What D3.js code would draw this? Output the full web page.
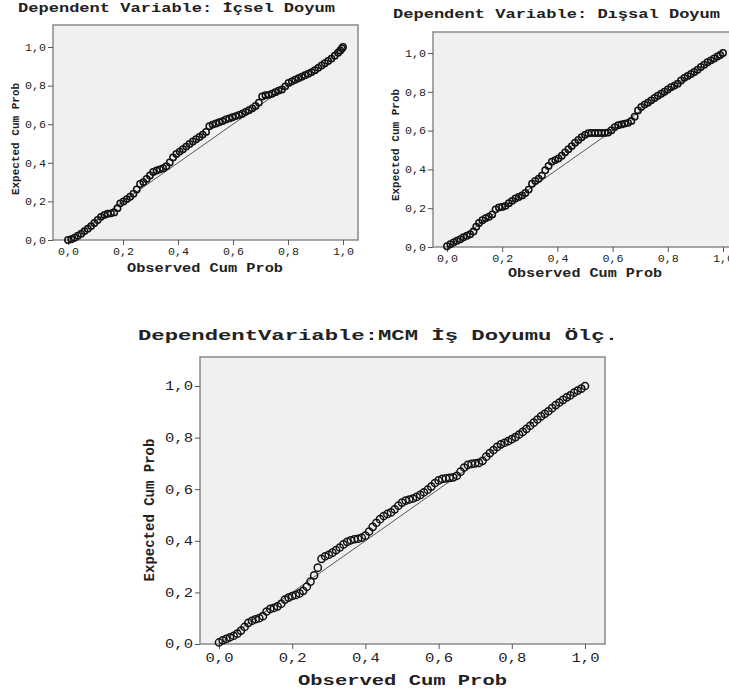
<!DOCTYPE html>
<html>
<head>
<meta charset="utf-8">
<script src="https://cdn.jsdelivr.net/npm/d3@7"></script>
<style>
  body { margin: 0; background: #fff; }
  text { font-family: "Liberation Mono", "DejaVu Sans Mono", monospace; fill: #222; }
</style>
</head>
<body>
<svg id="chart" width="729" height="693"></svg>
<script>
const tickValues = [0, 0.2, 0.4, 0.6, 0.8, 1.0];
const tickLabels = ["0,0", "0,2", "0,4", "0,6", "0,8", "1,0"];
const titles = ["Dependent Variable: İçsel Doyum", "Dependent Variable: Dışsal Doyum", "DependentVariable:MCM İş Doyumu Ölç."];
const xLabel = "Observed Cum Prob";
const yLabel = "Expected Cum Prob";

// observed cum prob, expected cum prob
const icsel = [[0.000,0.000],[0.012,0.004],[0.024,0.012],[0.036,0.022],[0.048,0.033],[0.060,0.046],[0.072,0.058],[0.084,0.072],[0.096,0.088],[0.108,0.104],[0.120,0.120],[0.132,0.130],[0.144,0.136],[0.156,0.138],[0.168,0.143],[0.180,0.165],[0.190,0.190],[0.202,0.200],[0.214,0.212],[0.226,0.224],[0.238,0.240],[0.250,0.262],[0.262,0.290],[0.274,0.300],[0.286,0.316],[0.298,0.334],[0.310,0.352],[0.322,0.360],[0.334,0.366],[0.346,0.372],[0.358,0.382],[0.370,0.402],[0.382,0.428],[0.394,0.446],[0.406,0.458],[0.418,0.470],[0.430,0.484],[0.442,0.498],[0.454,0.510],[0.466,0.522],[0.478,0.534],[0.490,0.546],[0.502,0.560],[0.514,0.590],[0.526,0.598],[0.538,0.604],[0.550,0.610],[0.562,0.616],[0.574,0.624],[0.586,0.630],[0.598,0.636],[0.610,0.642],[0.622,0.648],[0.634,0.654],[0.646,0.664],[0.658,0.672],[0.670,0.682],[0.682,0.694],[0.694,0.712],[0.706,0.744],[0.718,0.750],[0.730,0.752],[0.742,0.758],[0.754,0.766],[0.766,0.774],[0.778,0.780],[0.790,0.796],[0.802,0.814],[0.814,0.822],[0.826,0.830],[0.838,0.838],[0.850,0.846],[0.862,0.854],[0.874,0.862],[0.886,0.870],[0.898,0.880],[0.910,0.892],[0.922,0.904],[0.934,0.916],[0.946,0.928],[0.958,0.940],[0.970,0.955],[0.982,0.970],[0.990,0.982],[0.996,0.992],[1.000,1.000]];

const dissal = [[0.000,0.004],[0.012,0.014],[0.024,0.024],[0.036,0.032],[0.048,0.040],[0.060,0.050],[0.072,0.058],[0.084,0.066],[0.096,0.080],[0.106,0.104],[0.116,0.124],[0.128,0.138],[0.140,0.148],[0.152,0.156],[0.164,0.168],[0.176,0.194],[0.188,0.204],[0.200,0.206],[0.212,0.212],[0.224,0.226],[0.236,0.238],[0.248,0.250],[0.260,0.258],[0.272,0.266],[0.284,0.278],[0.296,0.296],[0.308,0.326],[0.320,0.340],[0.332,0.352],[0.344,0.368],[0.356,0.396],[0.368,0.418],[0.380,0.440],[0.392,0.448],[0.404,0.456],[0.416,0.470],[0.428,0.488],[0.440,0.504],[0.452,0.520],[0.464,0.538],[0.476,0.552],[0.488,0.566],[0.500,0.578],[0.512,0.586],[0.524,0.588],[0.536,0.588],[0.548,0.588],[0.560,0.588],[0.572,0.588],[0.584,0.590],[0.596,0.602],[0.608,0.618],[0.620,0.628],[0.632,0.632],[0.644,0.636],[0.656,0.640],[0.668,0.650],[0.680,0.672],[0.692,0.704],[0.704,0.722],[0.716,0.734],[0.728,0.744],[0.740,0.756],[0.752,0.768],[0.764,0.780],[0.776,0.790],[0.788,0.800],[0.800,0.812],[0.812,0.824],[0.824,0.832],[0.836,0.842],[0.848,0.858],[0.860,0.872],[0.872,0.882],[0.884,0.892],[0.896,0.902],[0.908,0.914],[0.920,0.928],[0.932,0.940],[0.944,0.952],[0.956,0.962],[0.968,0.972],[0.980,0.982],[0.990,0.990],[1.000,1.000]];

const mcm = [[0.000,0.006],[0.010,0.014],[0.020,0.020],[0.030,0.026],[0.040,0.032],[0.050,0.040],[0.060,0.052],[0.070,0.066],[0.080,0.082],[0.090,0.090],[0.100,0.096],[0.110,0.100],[0.120,0.108],[0.130,0.126],[0.140,0.136],[0.150,0.140],[0.160,0.146],[0.170,0.156],[0.180,0.172],[0.190,0.180],[0.200,0.186],[0.210,0.190],[0.220,0.196],[0.230,0.206],[0.240,0.222],[0.250,0.242],[0.260,0.266],[0.270,0.296],[0.280,0.330],[0.290,0.340],[0.300,0.346],[0.310,0.354],[0.320,0.364],[0.330,0.374],[0.340,0.386],[0.350,0.396],[0.360,0.402],[0.370,0.406],[0.380,0.408],[0.390,0.412],[0.400,0.420],[0.410,0.436],[0.420,0.454],[0.430,0.470],[0.440,0.484],[0.450,0.496],[0.460,0.504],[0.470,0.510],[0.480,0.522],[0.490,0.536],[0.500,0.548],[0.510,0.556],[0.520,0.560],[0.530,0.564],[0.540,0.570],[0.550,0.578],[0.560,0.588],[0.570,0.598],[0.580,0.610],[0.590,0.624],[0.600,0.634],[0.610,0.640],[0.620,0.642],[0.630,0.644],[0.640,0.646],[0.650,0.652],[0.660,0.668],[0.670,0.684],[0.680,0.694],[0.690,0.698],[0.700,0.700],[0.710,0.702],[0.720,0.710],[0.730,0.726],[0.740,0.740],[0.750,0.752],[0.760,0.764],[0.770,0.774],[0.780,0.780],[0.790,0.786],[0.800,0.794],[0.810,0.802],[0.820,0.812],[0.830,0.822],[0.840,0.834],[0.850,0.846],[0.860,0.858],[0.870,0.870],[0.880,0.882],[0.890,0.892],[0.900,0.902],[0.910,0.914],[0.920,0.926],[0.930,0.936],[0.940,0.946],[0.950,0.956],[0.960,0.964],[0.970,0.974],[0.980,0.982],[0.990,0.990],[1.000,1.000]];

const svg = d3.select('#chart');

function drawPanel(data, title, o) {
  // o: frame box, pixel position of 0 and 1 on each axis, text placement
  const x = d3.scaleLinear().domain([0, 1]).range([o.x0, o.x1]);
  const y = d3.scaleLinear().domain([0, 1]).range([o.bottom, o.y1]);
  const g = svg.append('g');

  g.append('rect')
    .attr('x', o.left).attr('y', o.top)
    .attr('width', o.right - o.left).attr('height', o.bottom - o.top)
    .attr('fill', '#f0f0f0')
    .attr('stroke', '#8a8a8a')
    .attr('stroke-width', 1.5);

  const xAxis = g.append('g')
    .attr('transform', `translate(0, ${o.bottom})`)
    .call(d3.axisBottom(x).tickValues(tickValues).tickSize(5).tickSizeOuter(0)
      .tickFormat((d, i) => tickLabels[i]));
  xAxis.select('.domain').remove();
  xAxis.selectAll('line').attr('stroke', '#555');
  xAxis.selectAll('text')
    .attr('y', o.tickDy)
    .attr('font-size', o.tickFs)
    .attr('font-family', '"Liberation Mono", monospace')
    .attr('fill', '#333')
    .attr('textLength', o.tickW)
    .attr('lengthAdjust', 'spacingAndGlyphs');

  const yAxis = g.append('g')
    .attr('transform', `translate(${o.left}, 0)`)
    .call(d3.axisLeft(y).tickValues(tickValues).tickSize(5).tickSizeOuter(0)
      .tickFormat((d, i) => tickLabels[i]));
  yAxis.select('.domain').remove();
  yAxis.selectAll('line').attr('stroke', '#555');
  yAxis.selectAll('text')
    .attr('x', -7)
    .attr('font-size', o.tickFs)
    .attr('font-family', '"Liberation Mono", monospace')
    .attr('fill', '#333')
    .attr('textLength', o.tickW)
    .attr('lengthAdjust', 'spacingAndGlyphs');

  // reference diagonal
  g.append('line')
    .attr('x1', x(0)).attr('y1', y(0))
    .attr('x2', x(1)).attr('y2', y(1))
    .attr('stroke', '#555')
    .attr('stroke-width', 1);

  g.selectAll('.pt').data(data).join('circle')
    .attr('class', 'pt')
    .attr('cx', d => x(d[0]))
    .attr('cy', d => y(d[1]))
    .attr('r', o.r)
    .attr('fill', 'none')
    .attr('stroke', '#111')
    .attr('stroke-width', 1.5);

  g.append('text')
    .attr('x', o.titleX).attr('y', o.titleY)
    .attr('font-size', o.titleFs)
    .attr('font-weight', 'bold')
    .attr('textLength', o.titleW)
    .attr('lengthAdjust', 'spacingAndGlyphs')
    .text(title);

  g.append('text')
    .attr('x', o.xlabX).attr('y', o.xlabY)
    .attr('font-size', o.labFs)
    .attr('font-weight', 'bold')
    .attr('textLength', o.xlabW)
    .attr('lengthAdjust', 'spacingAndGlyphs')
    .text(xLabel);

  g.append('text')
    .attr('transform', `translate(${o.ylabX}, ${o.ylabY}) rotate(-90)`)
    .attr('text-anchor', 'middle')
    .attr('font-size', o.ylabFs)
    .attr('font-weight', 'bold')
    .text(yLabel);
}

drawPanel(icsel, titles[0], {
  left: 53, top: 25, right: 358, bottom: 240, x0: 68, x1: 343, y1: 47,
  tickFs: 10, tickW: 21, tickDy: 8, r: 3.2,
  titleX: 18, titleY: 12, titleFs: 12, titleW: 317,
  xlabX: 127, xlabY: 272, xlabW: 156, labFs: 12,
  ylabX: 19, ylabY: 139, ylabFs: 11
});

drawPanel(dissal, titles[1], {
  left: 433, top: 32, right: 740, bottom: 247, x0: 447, x1: 723, y1: 53,
  tickFs: 10, tickW: 21, tickDy: 8, r: 3.2,
  titleX: 393, titleY: 18, titleFs: 12, titleW: 327,
  xlabX: 508, xlabY: 277, xlabW: 154, labFs: 12,
  ylabX: 399, ylabY: 145, ylabFs: 11
});

drawPanel(mcm, titles[2], {
  left: 200, top: 357, right: 605, bottom: 644, x0: 219, x1: 585, y1: 386,
  tickFs: 12, tickW: 28, tickDy: 9, r: 3.6,
  titleX: 138, titleY: 340, titleFs: 15, titleW: 480,
  xlabX: 298, xlabY: 685, xlabW: 209, labFs: 14,
  ylabX: 154, ylabY: 510, ylabFs: 14
});
</script>
</body>
</html>
